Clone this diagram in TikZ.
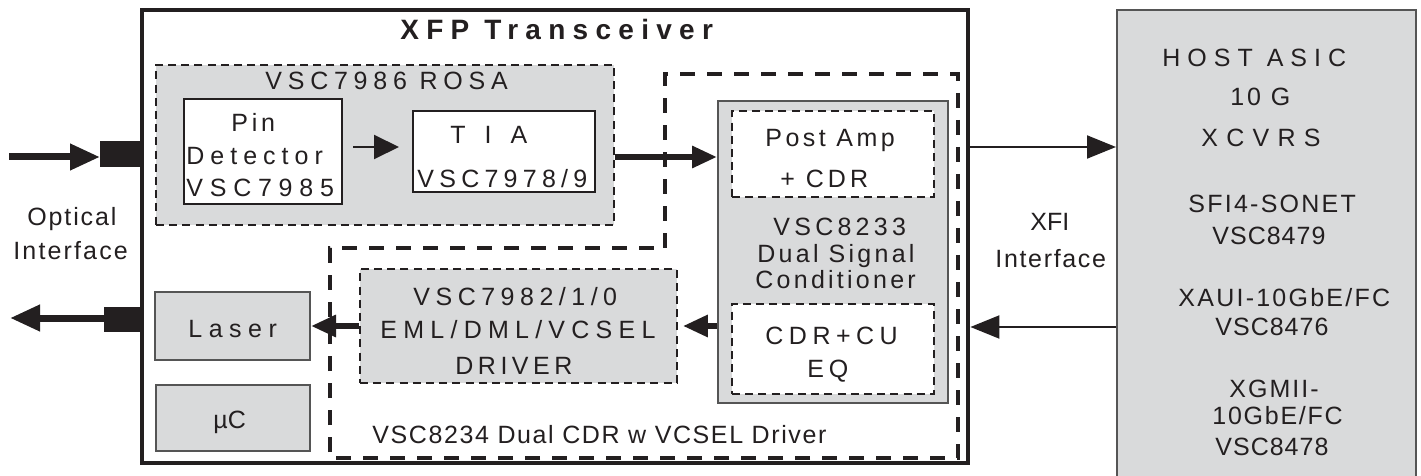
\documentclass[tikz,border=0pt]{standalone}
\usepackage{fontspec}
\setmainfont{Liberation Sans}
\usetikzlibrary{arrows.meta}
\definecolor{boxgray}{HTML}{D9DADB}
\definecolor{txt}{HTML}{231F20}
\definecolor{edgegray}{HTML}{555555}
\tikzset{
  lbl/.style={anchor=west, inner sep=0pt, text height=8.95pt, text depth=0pt, text=txt,
    font=\fontsize{12.5}{14}\selectfont\addfontfeatures{LetterSpace=#1}},
  lbl/.default=0,
  ttl/.style={anchor=west, inner sep=0pt, text height=10pt, text depth=0pt, text=txt,
    font=\fontsize{14}{16}\selectfont\bfseries\addfontfeatures{LetterSpace=#1}},
  outerbox/.style={draw=txt, line width=2.4pt, fill=white, inner sep=0pt},
  graydash/.style={draw=txt, line width=0.9pt, dash pattern=on 4pt off 2.6pt, fill=boxgray, inner sep=0pt},
  whitedash/.style={draw=txt, line width=0.9pt, dash pattern=on 4pt off 2.6pt, fill=white, inner sep=0pt},
  whitebox/.style={draw=txt, line width=1pt, fill=white, inner sep=0pt},
  graybox/.style={draw=edgegray, line width=1pt, fill=boxgray, inner sep=0pt},
  plug/.style={draw=txt, fill=txt, inner sep=0pt, line width=0pt},
  bigdash/.style={draw=txt, line width=2pt, dash pattern=on 7.5pt off 6pt},
  bigarrow/.style={draw=txt, line width=3.5pt, -{Triangle[length=15pt,width=12.5pt]}},
  midarrow/.style={draw=txt, line width=3pt, -{Triangle[length=12.5pt,width=10.5pt]}},
  xfiarrow/.style={draw=txt, line width=1pt, -{Triangle[length=14.5pt,width=11.5pt]}},
  thinarrow/.style={draw=txt, line width=1pt, -{Triangle[length=12.5pt,width=12pt]}},
}
\begin{document}
\begin{tikzpicture}[x=0.5pt, y=-0.5pt]
\clip (0,0) rectangle (1421,476);
\fill[white] (0,0) rectangle (1421,476);

% host
\node[graybox, minimum width=149.5pt, minimum height=240pt] (host) at (1266.5,250) {};

% outer XFP box
\node[outerbox, minimum width=413pt, minimum height=226.5pt] (outer) at (555,236.5) {};
\node[ttl=26] (title) at (400,30) {XFP Transceiver};

% plugs
\node[plug, minimum width=20pt, minimum height=12.5pt] (plugin) at (120,154.5) {};
\node[plug, minimum width=18pt, minimum height=12pt] (plugout) at (122,319) {};

% ROSA
\node[graydash, minimum width=229pt, minimum height=80pt] (rosa) at (385,145) {};
\node[lbl=23] (rosat) at (265,80.5) {VSC7986 ROSA};
\node[whitebox, minimum width=79pt, minimum height=52.5pt] (pin) at (263,151.5) {};
\node[lbl=15] (pin1) at (231,123) {Pin};
\node[lbl=24] (pin2) at (186,156) {Detector};
\node[lbl=27] (pin3) at (186,188) {VSC7985};
\node[whitebox, minimum width=91pt, minimum height=40.5pt] (tia) at (504,151.5) {};
\node[lbl=76] (tia1) at (450,135) {TIA};
\node[lbl=21] (tia2) at (417,179) {VSC7978/9};

% VSC8234 region
\draw[bigdash] (665,248) -- (665,74) -- (958,74) -- (958,458) -- (330,458) -- (330,248) -- cycle;
\node[lbl=6.4] (reg) at (372,435) {VSC8234 Dual CDR w VCSEL Driver};

% signal conditioner
\node[graybox, minimum width=115pt, minimum height=151pt] (cond) at (833,252) {};
\node[whitedash, minimum width=101pt, minimum height=43pt] (post) at (833,154) {};
\node[lbl=14] (post1) at (765,138) {Post Amp};
\node[lbl=16] (post2) at (780,179) {+ CDR};
\node[lbl=17] (cond1) at (773,227) {VSC8233};
\node[lbl=13] (cond2) at (757,254) {Dual Signal};
\node[lbl=13] (cond3) at (755,280) {Conditioner};
\node[whitedash, minimum width=101pt, minimum height=45pt] (cdreq) at (833,349) {};
\node[lbl=22] (cdr1) at (765,336) {CDR+CU};
\node[lbl=19] (cdr2) at (807,369) {EQ};

% driver
\node[graydash, minimum width=158.5pt, minimum height=57pt] (driver) at (518.5,326) {};
\node[lbl=22] (drv1) at (413,297) {VSC7982/1/0};
\node[lbl=25] (drv2) at (380,330) {EML/DML/VCSEL};
\node[lbl=18] (drv3) at (455,366) {DRIVER};

% laser, uC
\node[graybox, minimum width=77.5pt, minimum height=34pt] (laser) at (232.5,326) {};
\node[lbl=26] (lasert) at (188,329) {Laser};
\node[graybox, minimum width=77pt, minimum height=33pt] (uc) at (233,418) {};
\node[lbl] (uct) at (213,420) {µC};

% host texts
\node[lbl=28] (h1) at (1162,57.5) {HOST ASIC};
\node[lbl=11.5] (h2) at (1230,97) {10 G};
\node[lbl=33] (h3) at (1201,137.5) {XCVRS};
\node[lbl=9] (h4) at (1188,204) {SFI4-SONET};
\node[lbl=4] (h5) at (1212,236) {VSC8479};
\node[lbl=9] (h6) at (1178,298) {XAUI-10GbE/FC};
\node[lbl=4] (h7) at (1215,327) {VSC8476};
\node[lbl=8] (h8) at (1229,389) {XGMII-};
\node[lbl=7] (h9) at (1212,416) {10GbE/FC};
\node[lbl=4] (h10) at (1215,447) {VSC8478};

% interface labels
\node[lbl] (xfi1) at (1030,222) {XFI};
\node[lbl=6.7] (xfi2) at (995,259) {Interface};
\node[lbl=7.5] (opt1) at (27,217) {Optical};
\node[lbl=8.6] (opt2) at (13,251) {Interface};

% connectors
\coordinate (inL) at (9,157);
\coordinate (outL) at (10,318);
\coordinate (ya) at (0,147);
\coordinate (yb) at (0,327);
\draw[bigarrow] (inL) -- (inL -| plugin.west);
\draw[bigarrow] (outL -| plugout.west) -- (outL);
\draw[thinarrow, shorten <=5pt, shorten >=6.5pt] ([yshift=2.25pt]pin.east) -- ([yshift=2.25pt]pin.east -| tia.west);
\draw[midarrow] ([yshift=-6pt]rosa.east) -- ([yshift=-6pt]rosa.east -| cond.west);
\draw[midarrow, shorten >=2.5pt] (driver.east -| cond.west) -- (driver.east);
\draw[midarrow] (driver.west) -- (driver.west -| laser.east);
\draw[xfiarrow] (outer.east |- ya) -- (host.west |- ya);
\draw[xfiarrow] (host.west |- yb) -- (outer.east |- yb);
\end{tikzpicture}
\end{document}
